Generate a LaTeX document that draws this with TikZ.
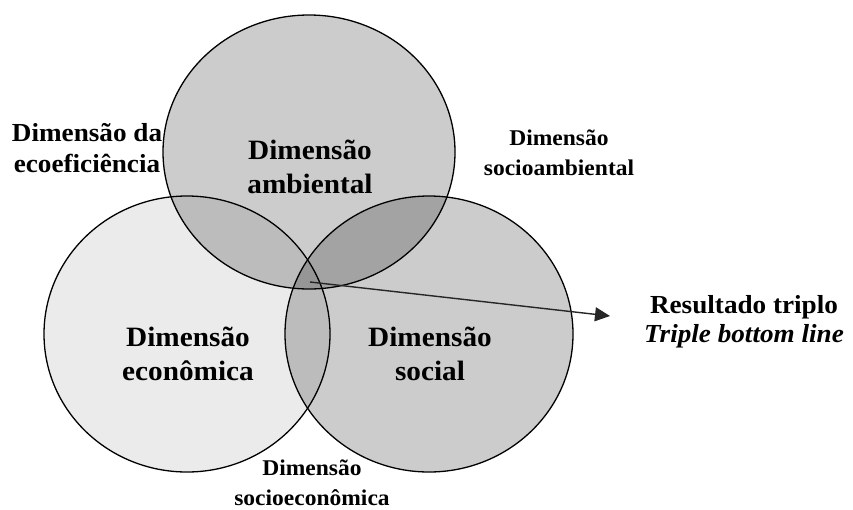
\documentclass[tikz,border=0pt]{standalone}
\usepackage{fontspec}
\setmainfont{Liberation Serif}[FakeStretch=1.045]
\usetikzlibrary{arrows.meta}

\begin{document}
\begin{tikzpicture}[x=1pt,y=-1pt,
  dim/.style={draw=black,line width=1.3pt},
  inner/.style={font=\fontsize{28}{34}\selectfont\bfseries,align=center,anchor=base},
  outer/.style={font=\fontsize{26}{31}\selectfont\bfseries,align=center,anchor=base},
  small/.style={font=\fontsize{22.5}{30}\selectfont\bfseries,align=center,anchor=base},
  result/.style={-{Triangle[length=15pt,width=14pt]},line width=1.4pt,draw=black!85}]
  \useasboundingbox (0,0) rectangle (853,509);

  % the three dimensions
  \path[dim,fill=black!20] (309,152) ellipse [x radius=146,y radius=137];
  \path[dim,fill=black,fill opacity=0.08] (187,334) ellipse [x radius=143,y radius=138];
  \path[dim,fill=black,fill opacity=0.2] (429,334) ellipse [x radius=144,y radius=138];

  % labels inside the circles (anchored on the baseline of the last line)
  \node[inner] (amb) at (310,193) {Dimensão\\ambiental};
  \node[inner] (eco) at (188,380) {Dimensão\\econômica};
  \node[inner] (soc) at (430,380) {Dimensão\\social};

  % labels of the overlaps
  \node[outer] (ecoef) at (87,172) {Dimensão da\\ecoeficiência};
  \node[small] (socamb) at (559,175) {Dimensão\\socioambiental};
  \node[small] (soceco) at (312,505) {Dimensão\\socioeconômica};

  % triple bottom line
  \coordinate (core) at (310,282);
  \node[font=\fontsize{26}{29}\selectfont\bfseries,align=center,anchor=base] (tbl) at (744,342)
    {Resultado triplo\\\itshape Triple bottom line};
  \coordinate (tip) at (610,316);
  \draw[result] (core) -- (tip);
\end{tikzpicture}
\end{document}
